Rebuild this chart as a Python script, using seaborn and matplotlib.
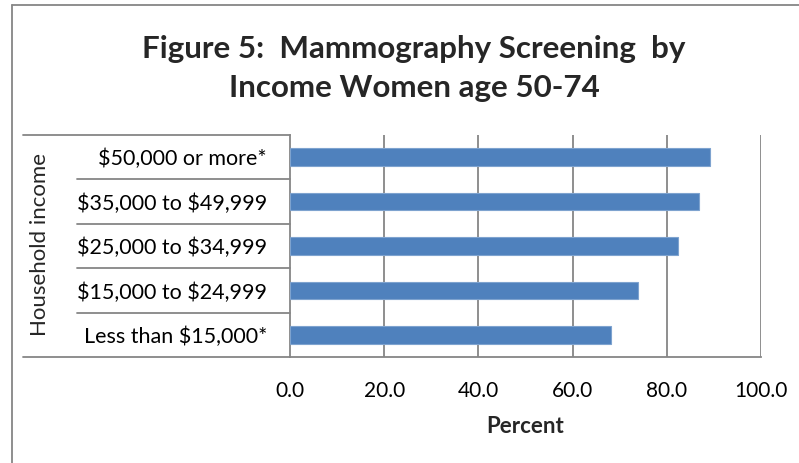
import matplotlib
matplotlib.use("Agg")
import matplotlib.pyplot as plt
import matplotlib.transforms as mtransforms
from matplotlib.lines import Line2D
import seaborn as sns
import pandas as pd

categories = ["$50,000 or more*", "$35,000 to $49,999", "$25,000 to $34,999",
              "$15,000 to $24,999", "Less than $15,000*"]
percent = [89.1, 86.8, 82.3, 73.9, 68.1]
xticks = [0, 20, 40, 60, 80, 100]
xticklabels = ["0.0", "20.0", "40.0", "60.0", "80.0", "100.0"]
title = "Figure 5:  Mammography Screening  by\nIncome Women age 50-74"

sns.set_theme(style="white")
plt.rcParams['font.family'] = ['Lato', 'DejaVu Sans']
plt.rcParams['text.parse_math'] = False

W, H = 799, 463
fig = plt.figure(figsize=(W / 100, H / 100), dpi=100)
fig.patch.set_facecolor("white")

x0, x1, ytop, ybot = 290, 761, 135, 357
ax = fig.add_axes([x0 / W, 1 - ybot / H, (x1 - x0) / W, (ybot - ytop) / H])

df = pd.DataFrame({"cat": categories, "pct": percent})
sns.barplot(data=df, x="pct", y="cat", orient="h", width=0.4, color="#4F81BD",
            saturation=1, edgecolor="#7EA3CF", linewidth=0.8, ax=ax, zorder=3)

ax.set_xlim(0, 100)
ax.set_ylim(4.5, -0.5)
ax.set_xticks(xticks)
ax.set_xticklabels(xticklabels, fontsize=15)
ax.tick_params(axis="x", length=6, width=1.3, color="#868686", direction="out",
               pad=11, labelcolor="black")
ax.tick_params(axis="y", length=0, pad=16.5, labelsize=15.5, labelcolor="black")
ax.set_xlabel("Percent", fontsize=16, fontweight="bold", labelpad=11)
ax.set_ylabel("")

for x in xticks[1:]:
    ax.axvline(x, color="#868686", lw=1.3, zorder=1)

for s in ["top", "right"]:
    ax.spines[s].set_visible(False)
for s in ["left", "bottom"]:
    ax.spines[s].set_color("#868686")
    ax.spines[s].set_linewidth(1.3)

# category "table" lines at left
trans = mtransforms.blended_transform_factory(ax.transAxes, ax.transData)
inner = (77 - x0) / (x1 - x0)
outer = (23 - x0) / (x1 - x0)
for y in [0.5, 1.5, 2.5, 3.5]:
    ax.add_line(Line2D([inner, 0], [y, y], transform=trans, color="#868686",
                       lw=1.3, clip_on=False))
for y in [-0.5, 4.5]:
    ax.add_line(Line2D([outer, 0], [y, y], transform=trans, color="#868686",
                       lw=1.3, clip_on=False))

fig.text(40 / W, 1 - 245 / H, "Household income", rotation=90, fontsize=16,
         ha="center", va="center")

fig.text(414 / W, 1 - 68.5 / H, title, fontsize=22.6, fontweight="bold",
         ha="center", va="center", linespacing=1.51)

# outer chart border (left and top edges visible)
fig.add_artist(Line2D([11.5 / W, 11.5 / W], [0, 1 - 5 / H], transform=fig.transFigure,
                      color="#868686", lw=1.3))
fig.add_artist(Line2D([11.5 / W, 1], [1 - 5 / H, 1 - 5 / H], transform=fig.transFigure,
                      color="#868686", lw=1.3))

fig.savefig("out.png", dpi=100)
